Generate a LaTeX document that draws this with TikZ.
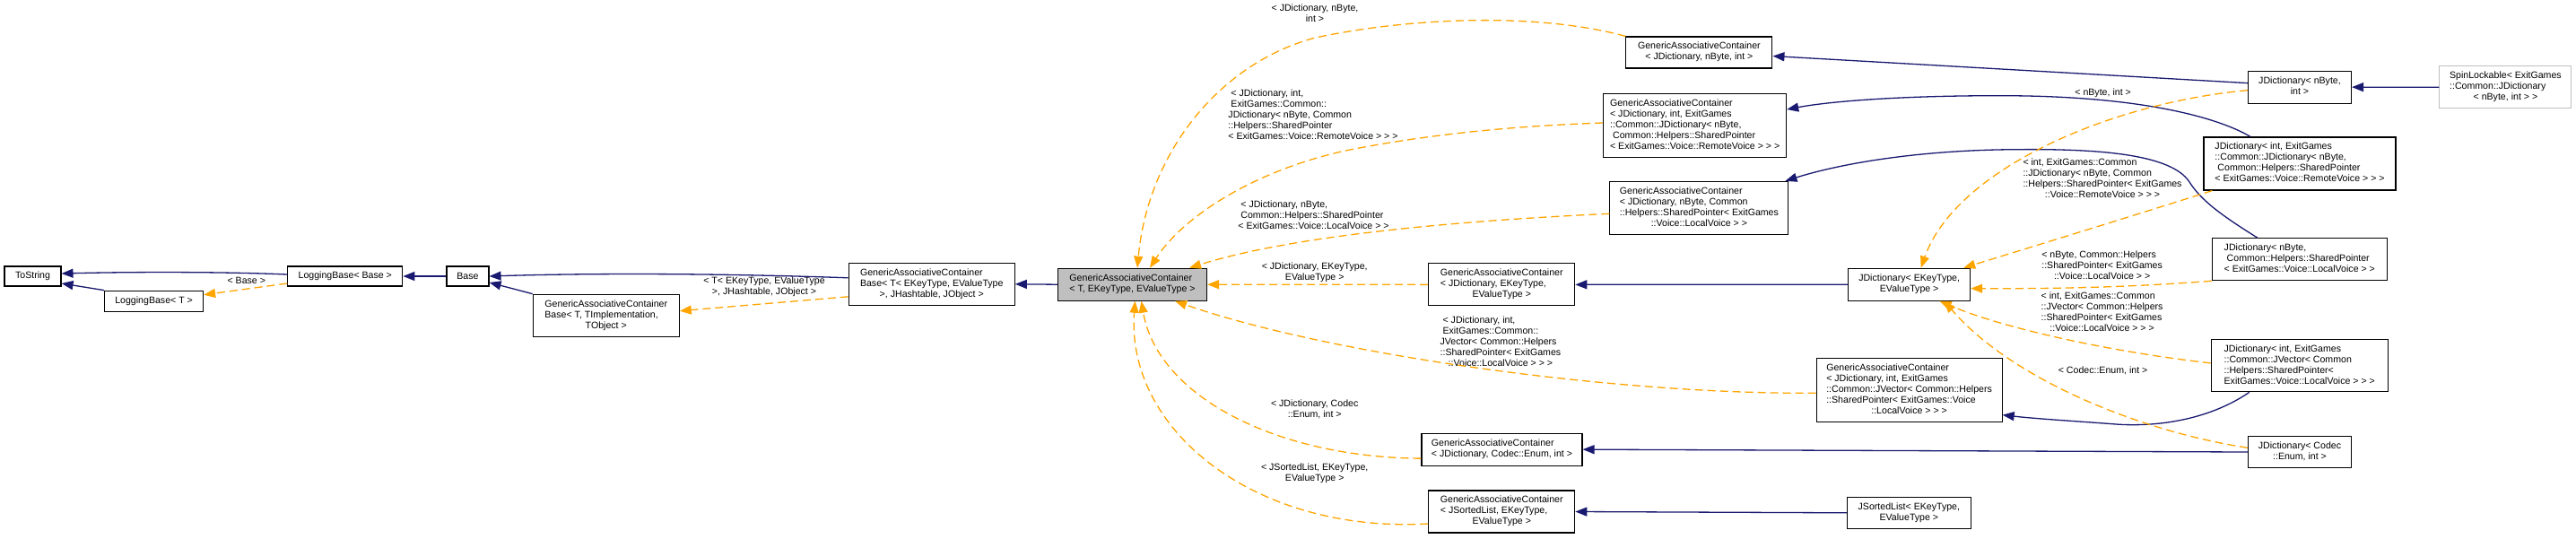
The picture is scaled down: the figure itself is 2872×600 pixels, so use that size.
\documentclass[tikz,border=0pt]{standalone}
\usepackage{fontspec}
\setmainfont{Liberation Sans}
\usetikzlibrary{arrows.meta}
\definecolor{dxblue}{RGB}{25,25,112}
\definecolor{dxorange}{RGB}{255,165,0}
\definecolor{dxgrey}{RGB}{191,191,191}
\newcommand{\ml}[2]{\begin{tabular}{@{}l@{}}#1\\\multicolumn{1}{@{}c@{}}{#2}\end{tabular}}
\newcommand{\ind}{\hspace*{3pt}}
\begin{document}
\begin{tikzpicture}[x=1pt,y=-1pt,
  box/.style={draw=black, line width=1.1pt, fill=white, inner sep=0pt, font=\fontsize{10.6}{12}\selectfont, text=black},
  gbox/.style={box, fill=dxgrey},
  lbox/.style={box, draw=dxgrey},
  elab/.style={inner sep=0pt, font=\fontsize{10.6}{12}\selectfont},
  inh/.style={draw=dxblue, line width=1.3pt, -{Triangle[length=13pt,width=10pt]}},
  tpl/.style={draw=dxorange, line width=1.3pt, dash pattern=on 9pt off 5pt, -{Triangle[length=13pt,width=10pt]}},
]
\fill[white] (0,0) rectangle (2872,600);
\useasboundingbox (0,0) rectangle (2872,600);

% nodes
\node[box, minimum width=63pt, minimum height=22pt] (tostring) at (36.5,308) {ToString};
\node[box, minimum width=110pt, minimum height=23pt] (lbT) at (171.6,335.7) {LoggingBase< T >};
\node[box, minimum width=128pt, minimum height=22pt] (lbB) at (384.8,308) {LoggingBase< Base >};
\node[box, minimum width=47pt, minimum height=22pt] (base) at (521.5,308) {Base};
\node[box, minimum width=163pt, minimum height=47pt] (gacbT) at (675.75,351.7) {\ml{GenericAssociativeContainer\\Base< T, TImplementation,}{TObject >}};
\node[box, minimum width=185pt, minimum height=47pt] (gacbH) at (1038.75,316.8) {\ml{GenericAssociativeContainer\\Base< T< EKeyType, EValueType}{>, JHashtable, JObject >}};
\node[gbox, minimum width=166pt, minimum height=36pt] (gac) at (1262.5,317.2) {\ml{GenericAssociativeContainer}{< T, EKeyType, EValueType >}};
\node[box, minimum width=163pt, minimum height=35pt] (gacNI) at (1894.4,58.5) {\ml{GenericAssociativeContainer}{< JDictionary, nByte, int >}};
\node[box, minimum width=204pt, minimum height=71pt] (gacRV) at (1889.65,140) {\ml{GenericAssociativeContainer\\< JDictionary, int, ExitGames\\::Common::JDictionary< nByte,\\\ind Common::Helpers::SharedPointer}{< ExitGames::Voice::RemoteVoice > > >}};
\node[box, minimum width=199pt, minimum height=59pt] (gacLV) at (1894.4,231.8) {\ml{GenericAssociativeContainer\\< JDictionary, nByte, Common\\::Helpers::SharedPointer< ExitGames}{::Voice::LocalVoice > >}};
\node[box, minimum width=163pt, minimum height=47pt] (gacEK) at (1674.25,317.35) {\ml{GenericAssociativeContainer\\< JDictionary, EKeyType,}{EValueType >}};
\node[box, minimum width=207pt, minimum height=71pt] (gacJV) at (2128.6,434.65) {\ml{GenericAssociativeContainer\\< JDictionary, int, ExitGames\\::Common::JVector< Common::Helpers\\::SharedPointer< ExitGames::Voice}{::LocalVoice > > >}};
\node[box, minimum width=179pt, minimum height=36pt] (gacCE) at (1674.5,501.15) {\ml{GenericAssociativeContainer}{< JDictionary, Codec::Enum, int >}};
\node[box, minimum width=163pt, minimum height=47pt] (gacSL) at (1674.25,570.5) {\ml{GenericAssociativeContainer\\< JSortedList, EKeyType,}{EValueType >}};
\node[box, minimum width=115pt, minimum height=36pt] (jdNI) at (2564,97.15) {\ml{JDictionary< nByte,}{int >}};
\node[lbox, minimum width=147pt, minimum height=47pt] (spin) at (2793.4,97.2) {\ml{SpinLockable< ExitGames\\::Common::JDictionary}{< nByte, int > >}};
\node[box, minimum width=214pt, minimum height=59pt] (jdRV) at (2564,182.5) {\ml{JDictionary< int, ExitGames\\::Common::JDictionary< nByte,\\\ind Common::Helpers::SharedPointer}{< ExitGames::Voice::RemoteVoice > > >}};
\node[box, minimum width=195pt, minimum height=47pt] (jdLV) at (2563.8,289.2) {\ml{JDictionary< nByte,\\\ind Common::Helpers::SharedPointer}{< ExitGames::Voice::LocalVoice > >}};
\node[box, minimum width=136pt, minimum height=36pt] (jdEK) at (2128.65,317.15) {\ml{JDictionary< EKeyType,}{EValueType >}};
\node[box, minimum width=197pt, minimum height=58pt] (jdJV) at (2563.75,407.85) {\ml{JDictionary< int, ExitGames\\::Common::JVector< Common\\::Helpers::SharedPointer<}{ExitGames::Voice::LocalVoice > > >}};
\node[box, minimum width=115pt, minimum height=35pt] (jdCE) at (2564,504) {\ml{JDictionary< Codec}{::Enum, int >}};
\node[box, minimum width=138pt, minimum height=35pt] (jsl) at (2128.35,571.8) {\ml{JSortedList< EKeyType,}{EValueType >}};

% edge labels
\node[elab] (lab1) at (274.8,313) {< Base >};
\node[elab] (lab2) at (852,320.5) {\ml{< T< EKeyType, EValueType}{>, JHashtable, JObject >}};
\node[elab] (lab3) at (1466,16.5) {\ml{< JDictionary, nByte,}{int >}};
\node[elab] (lab4) at (1464,129.3) {\ml{\ind< JDictionary, int,\\\ind ExitGames::Common::\\JDictionary< nByte, Common\\::Helpers::SharedPointer}{< ExitGames::Voice::RemoteVoice > > >}};
\node[elab] (lab5) at (1464.5,241.3) {\ml{\ind< JDictionary, nByte,\\\ind Common::Helpers::SharedPointer}{< ExitGames::Voice::LocalVoice > >}};
\node[elab] (lab6) at (1465.7,304) {\ml{< JDictionary, EKeyType,}{EValueType >}};
\node[elab] (lab7) at (1672.9,382.3) {\ml{\ind< JDictionary, int,\\\ind ExitGames::Common::\\JVector< Common::Helpers\\::SharedPointer< ExitGames}{::Voice::LocalVoice > > >}};
\node[elab] (lab8) at (1465.7,457.2) {\ml{< JDictionary, Codec}{::Enum, int >}};
\node[elab] (lab9) at (1465.7,528.2) {\ml{< JSortedList, EKeyType,}{EValueType >}};
\node[elab] (lab10) at (2344.6,103.3) {< nByte, int >};
\node[elab] (lab11) at (2344,200.3) {\ml{< int, ExitGames::Common\\::JDictionary< nByte, Common\\::Helpers::SharedPointer< ExitGames}{::Voice::RemoteVoice > > >}};
\node[elab] (lab12) at (2343.6,297.3) {\ml{< nByte, Common::Helpers\\::SharedPointer< ExitGames}{::Voice::LocalVoice > >}};
\node[elab] (lab13) at (2343.6,349.5) {\ml{< int, ExitGames::Common\\::JVector< Common::Helpers\\::SharedPointer< ExitGames}{::Voice::LocalVoice > > >}};
\node[elab] (lab14) at (2344.6,413.3) {< Codec::Enum, int >};

% inheritance edges
\draw[inh] ([yshift=2pt]lbB.west) .. controls (250,303) and (150,303) .. ([yshift=3pt]tostring.east);
\draw[inh] (lbT.north west) -- ([yshift=-8pt]tostring.east);
\draw[inh] (base.west) -- (lbB.east);
\draw[inh] ([yshift=7pt]gacbH.west) .. controls (780,304) and (640,305) .. (base.east);
\draw[inh] (gacbT.north west) -- ([yshift=-7pt]base.east);
\draw[inh] (gac.west) -- (gacbH.east);
\draw[inh] ([yshift=4.5pt]jdNI.west) -- ([yshift=-4pt]gacNI.east);
\draw[inh] ([xshift=-55pt]jdRV.north) .. controls (2480,135) and (2400,107) .. (2233,106.7) .. controls (2120,106.5) and (2040,113) .. ([yshift=18pt]gacRV.east);
\draw[inh] ([xshift=-47pt]jdLV.north) .. controls (2480,242) and (2455,225) .. (2441,203) .. controls (2420,170) and (2330,166) .. (2249,166.7) .. controls (2150,167) and (2060,180) .. ([xshift=-4pt]gacLV.north east);
\draw[inh] (jdEK.west) -- (gacEK.east);
\draw[inh] ([xshift=-56pt]jdJV.south) .. controls (2460,470) and (2400,476) .. (2359,473) .. controls (2320,470) and (2270,467) .. ([yshift=-28pt]gacJV.east);
\draw[inh] (jdCE.west) -- (gacCE.east);
\draw[inh] (jsl.west) -- (gacSL.east);
\draw[inh] (spin.west) -- (jdNI.east);

% template edges
\draw[tpl] ([yshift=-8pt]lbB.west) -- ([yshift=7pt]lbT.east);
\draw[tpl] ([yshift=-14pt]gacbH.west) -- ([yshift=5pt]gacbT.east);
\draw[tpl] (gacNI.north west) .. controls (1720,15) and (1580,18) .. (1466.7,42) .. controls (1360,70) and (1280,170) .. ([xshift=5.5pt]gac.north);
\draw[tpl] ([yshift=3pt]gacRV.west) .. controls (1700,140) and (1600,148) .. (1500,168) .. controls (1400,190) and (1320,240) .. ([xshift=19.5pt]gac.north);
\draw[tpl] ([yshift=-6.5pt]gacLV.west) .. controls (1650,245) and (1450,260) .. ([xshift=-20pt]gac.north east);
\draw[tpl] (gacEK.west) -- (gac.east);
\draw[tpl] ([yshift=-3.6pt]gacJV.west) .. controls (1800,440) and (1480,395) .. ([xshift=-36pt]gac.south east);
\draw[tpl] ([yshift=-10pt]gacCE.west) .. controls (1420,510) and (1290,440) .. ([xshift=10pt]gac.south);
\draw[tpl] ([yshift=-13.5pt]gacSL.west) .. controls (1400,595) and (1255,480) .. ([xshift=3pt]gac.south);
\draw[tpl] ([yshift=-3.5pt]jdNI.west) .. controls (2350,115) and (2180,190) .. ([xshift=13pt]jdEK.north);
\draw[tpl] ([xshift=10pt]jdRV.south west) .. controls (2380,240) and (2250,280) .. ([xshift=-8pt]jdEK.north east);
\draw[tpl] (jdLV.south west) .. controls (2380,320) and (2300,322) .. ([yshift=-4.5pt]jdEK.east);
\draw[tpl] ([yshift=3pt]jdJV.west) .. controls (2350,392) and (2230,365) .. ([xshift=34pt]jdEK.south);
\draw[tpl] ([yshift=4.7pt]jdCE.west) .. controls (2380,480) and (2240,420) .. ([xshift=39pt]jdEK.south);
\end{tikzpicture}
\end{document}
